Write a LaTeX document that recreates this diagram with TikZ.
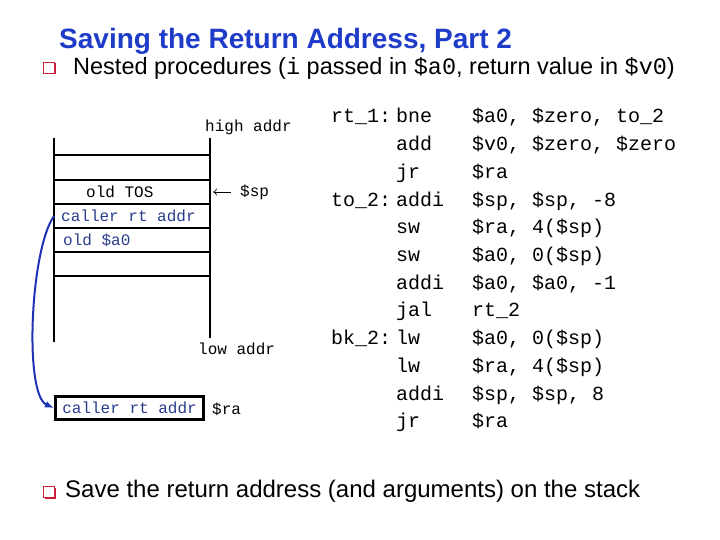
\documentclass[tikz,border=0pt]{standalone}
\usepackage{fontspec}
\setmainfont{Liberation Sans}
\setmonofont{Liberation Mono}
\usetikzlibrary{arrows.meta,shadows}
\definecolor{titleblue}{RGB}{30,60,200}
\definecolor{stackblue}{RGB}{40,60,140}
\definecolor{bulletred}{RGB}{200,30,60}
\definecolor{linkblue}{RGB}{30,50,180}
\tikzset{
  stackline/.style={line width=2.8pt},
  cell/.style={anchor=west, inner sep=0pt, font=\ttfamily\fontsize{16}{18}\selectfont},
  code/.style={anchor=base west, inner sep=0pt, font=\ttfamily\fontsize{20}{24}\selectfont},
  bulletbox/.style={draw=bulletred, line width=1.6pt, fill=white, minimum size=11pt, inner sep=0pt,
    drop shadow={shadow xshift=1pt, shadow yshift=-1pt, fill=bulletred, opacity=1}},
}
\begin{document}
\begin{tikzpicture}[x=1pt,y=-1pt]
\useasboundingbox (0,0) rectangle (720,540);
% Title and first bullet
\node[anchor=west, inner sep=0pt, text=titleblue, font=\bfseries\fontsize{28}{32}\selectfont] (title) at (59,41) {Saving the Return Address, Part 2};
\node[bulletbox] (b1) at (49,68) {};
\node[anchor=west, inner sep=0pt, font=\fontsize{23.5}{28}\selectfont] (nested) at (73,68) {Nested procedures (\texttt{i} passed in \texttt{\$a0}, return value in \texttt{\$v0})};

% Stack
\draw[stackline] (54,138) -- (54,342);
\draw[stackline] (210,138) -- (210,338);
\foreach \y in {155,180,204,228,252,276}
  \draw[stackline] (54,\y) -- (210,\y);
\node[cell] (high) at (205,127) {high addr};
\node[cell] (tos) at (86,192) {old TOS};
\node[cell, text=stackblue, inner xsep=7pt] (callerrt) at (54,216) {caller rt addr};
\node[cell, text=stackblue, inner xsep=9pt] (olda) at (54,240) {old \$a0};
\node[cell] (low) at (198,349) {low addr};
\node[cell, inner xsep=9pt] (sp) at (231,192) {\$sp};
\coordinate (sptip) at (213,192);
\draw[-{To[length=4pt,width=7pt]}, line width=0.6pt] (sp.west) -- (sptip);

% Return address register
\node[draw, line width=2.6pt, anchor=west, inner xsep=7pt, minimum height=23pt, text=stackblue,
  font=\ttfamily\fontsize{16}{18}\selectfont] (ra) at (54,408) {caller rt addr};
\node[cell] (raname) at (212,409) {\$ra};
\draw[linkblue, line width=2pt, -{Latex[length=9pt,width=7pt]}] (callerrt.west) .. controls (30,250) and (24,395) .. (ra.west);

% Code
\node[code] (rt1) at (331,123) {rt\_1:};
\node[code] (to2) at (331,{123+27.7*3}) {to\_2:};
\node[code] (bk2) at (331,{123+27.7*8}) {bk\_2:};
\foreach \op/\args [count=\i from 0] in {
    bne/{\$a0, \$zero, to\_2},
    add/{\$v0, \$zero, \$zero},
    jr/{\$ra},
    addi/{\$sp, \$sp, -8},
    sw/{\$ra, 4(\$sp)},
    sw/{\$a0, 0(\$sp)},
    addi/{\$a0, \$a0, -1},
    jal/{rt\_2},
    lw/{\$a0, 0(\$sp)},
    lw/{\$ra, 4(\$sp)},
    addi/{\$sp, \$sp, 8},
    jr/{\$ra}} {
  \node[code] (op\i) at (396,{123+27.7*\i}) {\op};
  \node[code] (args\i) at (472,{123+27.7*\i}) {\args};
}

% Second bullet
\node[bulletbox] (b2) at (49,492) {};
\node[anchor=west, inner sep=0pt, font=\fontsize{24}{28}\selectfont] (save) at (65,491) {Save the return address (and arguments) on the stack};
\end{tikzpicture}
\end{document}
